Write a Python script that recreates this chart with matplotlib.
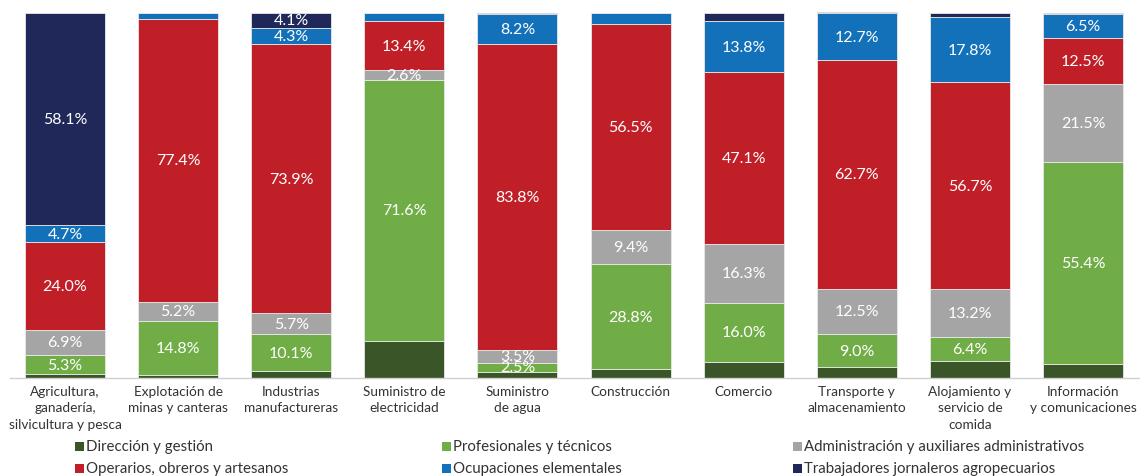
import matplotlib
matplotlib.use("Agg")
import matplotlib.pyplot as plt
from matplotlib.patches import Rectangle
import numpy as np

plt.rcParams['font.family'] = ['Lato', 'DejaVu Sans']

categories = [
    "Agricultura,\nganadería,\nsilvicultura y pesca",
    "Explotación de\nminas y canteras",
    "Industrias\nmanufactureras",
    "Suministro de\nelectricidad",
    "Suministro\nde agua",
    "Construcción",
    "Comercio",
    "Transporte y\nalmacenamiento",
    "Alojamiento y\nservicio de\ncomida",
    "Información\ny comunicaciones",
]

series_names = [
    "Dirección y gestión",
    "Profesionales y técnicos",
    "Administración y auxiliares administrativos",
    "Operarios, obreros y artesanos",
    "Ocupaciones elementales",
    "Trabajadores jornaleros agropecuarios",
]

direccion = [1.0, 0.9, 1.9, 10.1, 1.7, 2.4, 4.5, 3.0, 4.7, 3.7]
profesionales = [5.3, 14.8, 10.1, 71.6, 2.5, 28.8, 16.0, 9.0, 6.4, 55.4]
administracion = [6.9, 5.2, 5.7, 2.6, 3.5, 9.4, 16.3, 12.5, 13.2, 21.5]
operarios = [24.0, 77.4, 73.9, 13.4, 83.8, 56.5, 47.1, 62.7, 56.7, 12.5]
elementales = [4.7, 1.7, 4.3, 2.3, 8.2, 2.9, 13.8, 12.7, 17.8, 6.5]
jornaleros = [58.1, 0.0, 4.1, 0.0, 0.3, 0.0, 2.3, 0.5, 1.2, 0.4]

series = [direccion, profesionales, administracion, operarios, elementales, jornaleros]
colors = ["#3A5528", "#70AD47", "#A5A5A5", "#C11F27", "#1371BA", "#1F2858"]
labelled = [False, True, True, True, True, True]
# segments whose value is not printed: (series index, category index)
unlabelled_cells = {(4, 5)}

fig = plt.figure(figsize=(11.4, 4.77), dpi=100)
W, H = 1140, 477
ax = fig.add_axes([10 / W, (H - 379) / H, 1130 / W, 365 / H])

x = np.arange(len(categories))
bottom = np.zeros(len(categories))
for si, (vals, col, lab) in enumerate(zip(series, colors, labelled)):
    vals = np.array(vals, dtype=float)
    ax.bar(x, vals, width=0.707, bottom=bottom, color=col,
           edgecolor="#E8E8E8", linewidth=0.6, clip_on=False, zorder=2)
    if lab:
        for ci, (xi, b, v) in enumerate(zip(x, bottom, vals)):
            if v >= 2.4 and (si, ci) not in unlabelled_cells:
                ax.text(xi, b + v / 2, f"{v:.1f}%", ha="center", va="center",
                        color="white", fontsize=11.5, zorder=3)
    bottom += vals

ax.set_xlim(-0.486, 9.504)
ax.set_ylim(0, 100)
for s in ["top", "right", "left"]:
    ax.spines[s].set_visible(False)
ax.spines["bottom"].set_color("#D0D0D0")
ax.spines["bottom"].set_linewidth(1.0)
ax.set_yticks([])
ax.set_xticks(x)
ax.set_xticklabels(categories, fontsize=9.8, color="#333333", linespacing=1.45)
ax.tick_params(axis="x", length=0, pad=5)

# legend: two rows of three entries
col_x = [75, 442, 793]
row_y = [447, 469]
for i, (name, col) in enumerate(zip(series_names, colors)):
    r, c = divmod(i, 3)
    cx, cy = col_x[c], row_y[r]
    fig.patches.append(Rectangle((cx / W, (H - cy - 4.5) / H), 8.5 / W, 9 / H,
                                 transform=fig.transFigure, facecolor=col,
                                 edgecolor="none"))
    fig.text((cx + 11) / W, (H - cy) / H, name, ha="left", va="center",
             fontsize=10.8, color="#333333")

fig.savefig("out.png", dpi=100)
